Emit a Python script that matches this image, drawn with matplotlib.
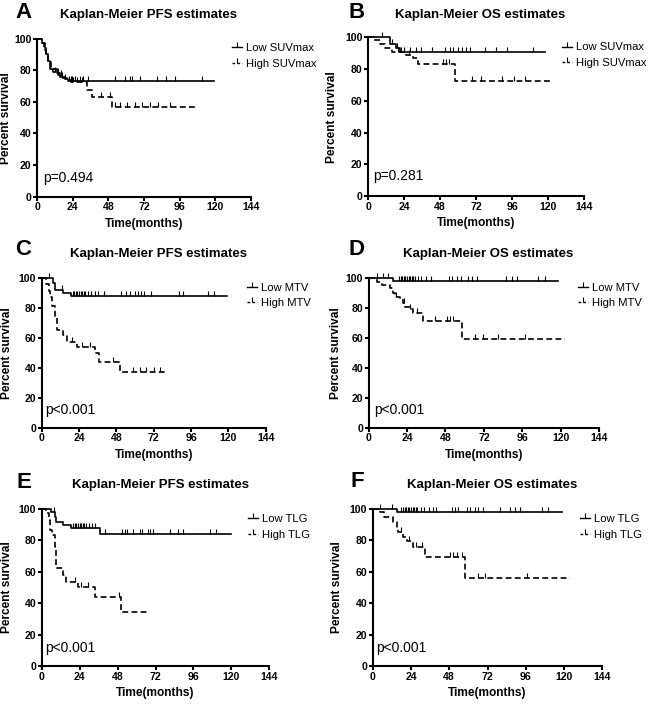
import numpy as np
import matplotlib
matplotlib.use("Agg")
import matplotlib.pyplot as plt
from matplotlib.lines import Line2D

plt.rcParams["font.family"] = ["Liberation Sans", "DejaVu Sans"]

# --- A: PFS by SUVmax ---
pfs_suv_low_t = [0, 3.5, 5, 6, 7, 8.5, 13, 15.3, 18.7, 21, 119]
pfs_suv_low_s = [100, 97, 94, 90, 86, 81, 78, 76, 74.5, 73.4, 73.4]
pfs_suv_low_c = [14, 16.5, 19, 21.5, 22.5, 23.5, 25.5, 29, 31, 34.5, 52.5, 59, 62.5, 64,
                 69.5, 80.5, 87, 93, 111]
pfs_suv_high_t = [0, 3, 4.5, 6, 7.5, 9, 10.5, 14, 17, 20, 23, 33.3, 36.7, 50.6, 106.5]
pfs_suv_high_s = [100, 97, 93, 89, 85, 81, 79, 77, 75, 74, 72.6, 67.5, 63.3, 57, 57]
pfs_suv_high_c = [12, 16, 24, 27, 30, 43, 49, 52.5, 55.8, 60.3, 66, 70.4, 76, 81.7, 89.5]

# --- B: OS by SUVmax ---
os_suv_low_t = [0, 14.5, 18.5, 21, 118]
os_suv_low_s = [100, 95.5, 93, 90.5, 90.5]
os_suv_low_c = [9, 16, 19, 23.5, 28, 32, 35.5, 42.5, 51, 54.5, 56.5, 60, 62.5, 65.5, 68,
                78, 85.5, 92.5, 110]
os_suv_high_t = [0, 4, 7.5, 11, 15.5, 25.5, 30, 33.5, 58, 123.5]
os_suv_high_s = [100, 98, 96, 93.5, 91, 89, 87, 83, 72.5, 72.5]
os_suv_high_c = [20, 22, 27, 50, 52, 54, 69, 75.5, 89, 97, 104.5]

# --- C: PFS by MTV ---
pfs_mtv_low_t = [0, 7.3, 8.8, 13.7, 19, 119]
pfs_mtv_low_s = [100, 96.3, 92, 89.8, 88, 88]
pfs_mtv_low_c = [5, 13, 20, 21, 22, 23, 24, 25, 26, 27, 28, 30, 32, 34, 36, 40, 51, 54,
                 57, 60, 62, 64, 66, 70, 88, 91, 107, 111]
pfs_mtv_high_t = [0, 3, 4.5, 5.5, 6.4, 8.6, 10, 14, 16, 22.5, 34.3, 36.9, 50.4, 81.4]
pfs_mtv_high_s = [100, 96, 91, 87, 81, 73, 65, 62, 57.3, 54, 49.6, 43.6, 37.3, 37.3]
pfs_mtv_high_c = [19.5, 26, 31, 46, 59, 63, 67, 72, 76]

# --- D: OS by MTV ---
os_mtv_low_t = [0, 15.4, 118.6]
os_mtv_low_s = [100, 98.2, 98.2]
os_mtv_low_c = [5, 9, 12.3, 19, 20, 21, 22, 23, 24, 25, 26, 27, 28, 29, 31, 33, 36, 39,
                50, 52, 55, 58, 62, 64.5, 67.5, 86, 89.5, 92.5, 106, 110]
os_mtv_high_t = [0, 5, 8.1, 13.3, 15.4, 16.4, 19.6, 21.6, 22.7, 25.8, 27.9, 34.1, 58.2, 123]
os_mtv_high_s = [100, 97.7, 95.5, 93.3, 90, 87.7, 85.9, 83.3, 81, 79.2, 76.6, 71.6, 59.4, 59.4]
os_mtv_high_c = [17, 22, 26, 30, 41.5, 48.8, 50.9, 53, 66.5, 71.7, 81, 97.7]

# --- E: PFS by TLG ---
pfs_tlg_low_t = [0, 6.1, 8.2, 9.2, 13.5, 18.7, 36.7, 120]
pfs_tlg_low_s = [100, 98, 95, 91.8, 89.7, 87.6, 83.7, 83.7]
pfs_tlg_low_c = [7.5, 20, 21, 22, 23, 24, 25, 26, 27, 28, 30, 32, 34, 40, 50.5, 52.5, 54,
                 58, 62.3, 63.5, 67.5, 68.7, 70.5, 81, 86.5, 89.5, 106.5, 110.5]
pfs_tlg_high_t = [0, 2.9, 4.4, 5.5, 6.7, 8.2, 9.2, 13.5, 15.6, 23, 33.5, 50.4, 67.2]
pfs_tlg_high_s = [100, 97, 92.8, 86.5, 83.3, 75.9, 62.2, 57.9, 53.3, 50.5, 44.2, 34.6, 34.6]
pfs_tlg_high_c = [20.9, 25, 29, 48.9]

# --- F: OS by TLG ---
os_tlg_low_t = [0, 15, 118.5]
os_tlg_low_s = [100, 98, 98]
os_tlg_low_c = [4.6, 12, 18, 19, 20, 21, 22, 23, 24, 25, 26, 27, 28, 30, 32, 35, 38, 40,
                49.5, 51.6, 53.7, 59, 61, 64, 66, 69.3, 80, 86, 89.2, 92.4, 106, 110]
os_tlg_high_t = [0, 4.6, 7.1, 12.9, 15, 16, 19.2, 21.3, 25.5, 32.8, 57.9, 123.7]
os_tlg_high_s = [100, 97.7, 94.9, 91.8, 87.6, 85.4, 81.9, 79.5, 75.9, 69.5, 55.8, 55.8]
os_tlg_high_c = [18, 23, 27, 31, 48.5, 50.6, 52.7, 55.8, 66.2, 70.4, 96.5]

W, H = 650, 704
DASH = (0, (3.5, 2))


def km_curve(ax, t, s, cens, ls):
    ax.step(t, s, where="post", color="k", lw=1.2, linestyle=ls, clip_on=False)
    t = np.asarray(t)
    s = np.asarray(s)
    idx = np.searchsorted(t, cens, side="right") - 1
    ax.plot(cens, s[idx], linestyle="none", marker=2, ms=3.5, mew=0.8,
            color="k", clip_on=False)


def setup_axes(ax, width_px, ylab_off):
    ax.set_xlim(0, 144)
    ax.set_ylim(0, 100)
    ax.set_xticks(np.arange(0, 145, 24))
    ax.set_yticks(np.arange(0, 101, 20))
    for side in ["top", "right"]:
        ax.spines[side].set_visible(False)
    for side in ["left", "bottom"]:
        ax.spines[side].set_linewidth(1.5)
    ax.tick_params(direction="out", length=3, width=1.5, pad=1, labelsize=7.6)
    for lab in ax.get_xticklabels() + ax.get_yticklabels():
        lab.set_fontweight("bold")
    ax.set_xlabel("Time(months)", fontsize=8.6, fontweight="bold", labelpad=4)
    ax.set_ylabel("Percent survival", fontsize=8.6, fontweight="bold")
    ax.yaxis.set_label_coords(-ylab_off / width_px, 0.5)


panels = [
    # letter, title, legend labels, p-text, curves, axes px, letter px, title px, legend px,
    # p px, ylabel offset px
    ("A", "Kaplan-Meier PFS estimates", ("Low SUVmax", "High SUVmax"), "p=0.494",
     (pfs_suv_low_t, pfs_suv_low_s, pfs_suv_low_c),
     (pfs_suv_high_t, pfs_suv_high_s, pfs_suv_high_c),
     (37.3, 250.7, 38.7, 196.7), (15, 18), (148.5, 18), (232, 56), (43, 178), 25.5),
    ("B", "Kaplan-Meier OS estimates", ("Low SUVmax", "High SUVmax"), "p=0.281",
     (os_suv_low_t, os_suv_low_s, os_suv_low_c),
     (os_suv_high_t, os_suv_high_s, os_suv_high_c),
     (368.3, 584, 37.3, 196), (348, 18), (480, 18), (562, 55.3), (373, 175.7), 30),
    ("C", "Kaplan-Meier PFS estimates", ("Low MTV", "High MTV"), "p<0.001",
     (pfs_mtv_low_t, pfs_mtv_low_s, pfs_mtv_low_c),
     (pfs_mtv_high_t, pfs_mtv_high_s, pfs_mtv_high_c),
     (41.7, 265.7, 277.7, 427.7), (15, 255), (159, 256.7), (247, 295.5), (45, 410), 29),
    ("D", "Kaplan-Meier OS estimates", ("Low MTV", "High MTV"), "p<0.001",
     (os_mtv_low_t, os_mtv_low_s, os_mtv_low_c),
     (os_mtv_high_t, os_mtv_high_s, os_mtv_high_c),
     (368.7, 599, 278.3, 427.7), (348, 255), (488.5, 257), (578, 295.5), (374, 410), 27),
    ("E", "Kaplan-Meier PFS estimates", ("Low TLG", "High TLG"), "p<0.001",
     (pfs_tlg_low_t, pfs_tlg_low_s, pfs_tlg_low_c),
     (pfs_tlg_high_t, pfs_tlg_high_s, pfs_tlg_high_c),
     (41.7, 269.3, 508.7, 666.3), (17, 488), (160, 488), (248, 527), (45, 647.7), 29),
    ("F", "Kaplan-Meier OS estimates", ("Low TLG", "High TLG"), "p<0.001",
     (os_tlg_low_t, os_tlg_low_s, os_tlg_low_c),
     (os_tlg_high_t, os_tlg_high_s, os_tlg_high_c),
     (372.7, 602.3, 508.7, 666.3), (350, 487), (492, 488), (580, 527), (376, 647.7), 30),
]

fig = plt.figure(figsize=(6.5, 7.04), dpi=100)

for (letter, title, labels, ptext, low, high, box, lpos, tpos, legpos, ppos, yoff) in panels:
    x0, x1, ytop, ybot = box
    ax = fig.add_axes([x0 / W, 1 - ybot / H, (x1 - x0) / W, (ybot - ytop) / H])
    km_curve(ax, *low, "-")
    km_curve(ax, *high, DASH)
    setup_axes(ax, x1 - x0, yoff)

    fig.text(lpos[0] / W, 1 - lpos[1] / H, letter, fontsize=16, fontweight="bold",
             ha="left", va="baseline")
    fig.text(tpos[0] / W, 1 - tpos[1] / H, title, fontsize=9.5, fontweight="bold",
             ha="center", va="baseline")
    fig.text(ppos[0] / W, 1 - ppos[1] / H, ptext, fontsize=10, ha="left", va="center")

    handles = [
        Line2D([], [], color="k", lw=1.0, marker=2, ms=3.5, mew=0.8),
        Line2D([], [], color="k", lw=1.0, linestyle=(0, (2, 1.5)), marker=2, ms=3.5, mew=0.8),
    ]
    ax.legend(handles, labels, loc="center left",
              bbox_to_anchor=(legpos[0] / W, 1 - legpos[1] / H),
              bbox_transform=fig.transFigure, frameon=False, fontsize=8.1,
              handlelength=0.9, handletextpad=0.35, labelspacing=0.5,
              borderpad=0, borderaxespad=0)

fig.savefig("out.png", dpi=100)
